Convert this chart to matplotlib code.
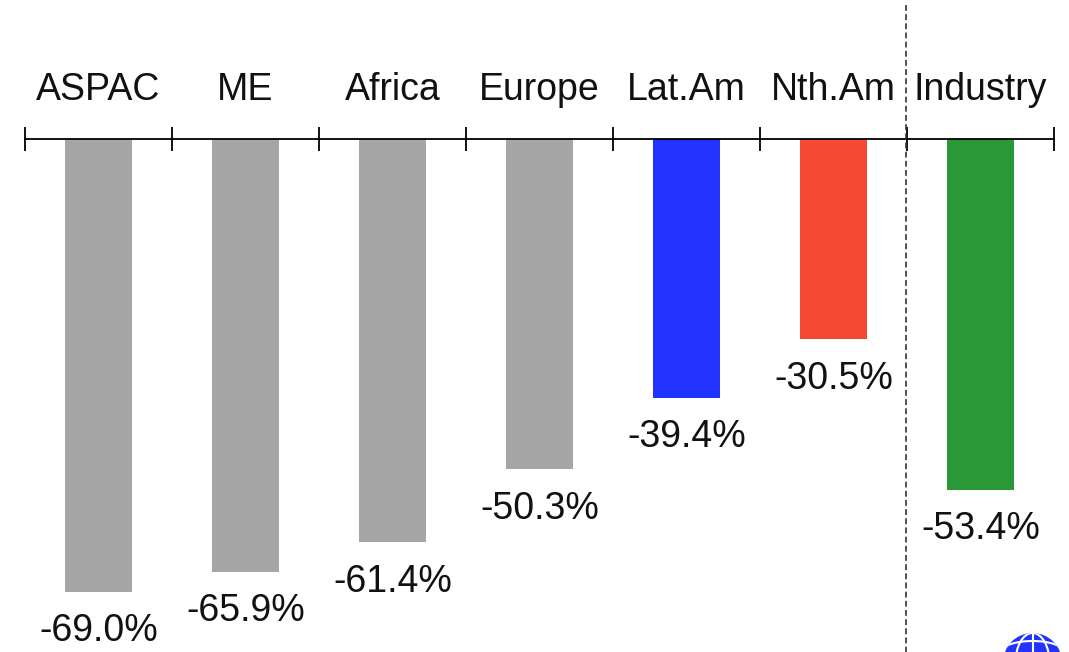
import matplotlib
matplotlib.use("Agg")
import matplotlib.pyplot as plt
from matplotlib.patches import Circle, Ellipse
from matplotlib.transforms import Affine2D

W, H = 1069, 652
regions = ["ASPAC", "ME", "Africa", "Europe", "Lat.Am", "Nth.Am", "Industry"]
changes = [-69.0, -65.9, -61.4, -50.3, -39.4, -30.5, -53.4]
bar_colors = ["#a6a6a6", "#a6a6a6", "#a6a6a6", "#a6a6a6", "#2233ff", "#f44a33", "#2a9836"]

plt.rcParams["font.family"] = ["Liberation Sans", "DejaVu Sans"]
fig = plt.figure(figsize=(W / 100, H / 100), dpi=100)
ax = fig.add_axes([25 / W, 0, 1029 / W, 1 - 139 / H])
ax.patch.set_alpha(0)
ax.set_xlim(-0.5, 6.5)
ax.set_ylim(-(H - 139) / 6.57, 0)

positions = range(len(regions))
ax.bar(positions, changes, width=0.45, color=bar_colors)

for x, v in zip(positions, changes):
    ax.annotate(f"{v:.1f}%", (x, v), xytext=(0, -25.3), textcoords="offset points",
                ha="center", va="center_baseline", fontsize=27, color="#111111")
    ax.annotate(regions[x], (x, 0), xytext=(0, 38.2), textcoords="offset points",
                ha="center", va="center_baseline", fontsize=27, color="#111111", annotation_clip=False)

# Axis line along the top with ticks on category boundaries
for side in ("left", "right", "bottom"):
    ax.spines[side].set_visible(False)
ax.spines["top"].set_linewidth(1.3)
ax.spines["top"].set_color("black")
ax.set_yticks([])
ax.set_xticks([i - 0.5 for i in range(len(regions) + 1)])
ax.set_xticklabels([])
ax.tick_params(axis="x", top=True, bottom=False, direction="inout", length=17, width=1.3, color="black")

# Separator between the regions and the industry column
px = Affine2D().scale(1, -1).translate(0, H)
fig.add_artist(plt.Line2D([906, 906], [5, H], transform=px, color="#333333",
                          lw=1.2, dashes=(3.5, 2)))

# Globe emblem in the lower right corner
cx, cy, r = 1032.5, 662.5, 29.5
globe = Circle((cx, cy), r, transform=px, fc="#2233ff", ec="none")
fig.add_artist(globe)
white = dict(transform=px, fc="none", ec="white", lw=1.5)
for art in (
    Ellipse((cx, cy), 34, 2 * r, **white),
    Ellipse((cx, 651), 60, 20, **white),
):
    fig.add_artist(art)
    art.set_clip_path(globe)
meridian = plt.Line2D([cx, cx], [cy - r, H], transform=px, color="white", lw=1.5)
fig.add_artist(meridian)

fig.savefig("out.png", dpi=100)
